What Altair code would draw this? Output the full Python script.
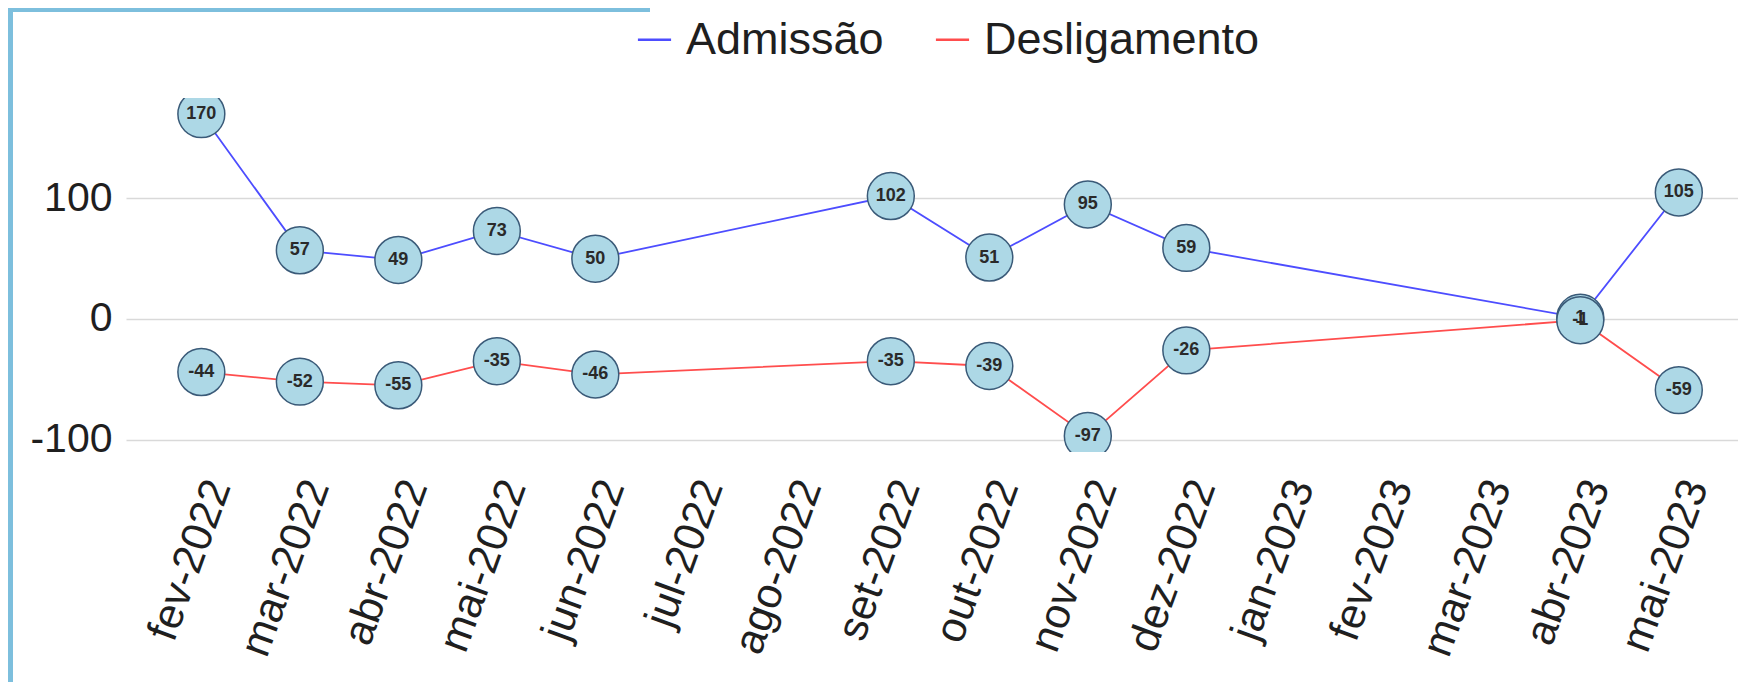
import altair as alt
import pandas as pd

# ---- data ----
months = ["fev-2022", "mar-2022", "abr-2022", "mai-2022", "jun-2022", "jul-2022",
          "ago-2022", "set-2022", "out-2022", "nov-2022", "dez-2022", "jan-2023",
          "fev-2023", "mar-2023", "abr-2023", "mai-2023"]
obs_months = ["fev-2022", "mar-2022", "abr-2022", "mai-2022", "jun-2022", "set-2022",
              "out-2022", "nov-2022", "dez-2022", "abr-2023", "mai-2023"]
admissao = [170, 57, 49, 73, 50, 102, 51, 95, 59, 1, 105]
desligamento = [-44, -52, -55, -35, -46, -35, -39, -97, -26, -1, -59]
series = ["Admissão", "Desligamento"]
series_colors = ["#4d4dff", "#ff4d4d"]

rows = []
for m, v in zip(obs_months, admissao):
    rows.append({"mes": m, "valor": v, "tipo": series[0], "rotulo": str(v)})
for m, v in zip(obs_months, desligamento):
    rows.append({"mes": m, "valor": v, "tipo": series[1], "rotulo": str(v)})
df = pd.DataFrame(rows)

FONT = "Liberation Sans"

x_enc = alt.X("mes:O", sort=months,
              scale=alt.Scale(domain=months, type="point", padding=0.683, align=0.56),
              axis=alt.Axis(title=None, labelAngle=290, labelAlign="right",
                            labelBaseline="middle", labelFontSize=43, labelFont=FONT,
                            labelColor="#1f1f1f", labelPadding=29, labelOffset=17,
                            labelLimit=0,
                            ticks=False, tickSize=0, domain=False, grid=False,
                            labelOverlap=False, labelBound=False))
y_enc = alt.Y("valor:Q",
              scale=alt.Scale(domain=[-110.35, 183.35], nice=False, zero=False),
              axis=alt.Axis(title=None, values=[-100, 0, 100], labelFontSize=41,
                            labelExpr="datum.value + ''",
                            labelFont=FONT, labelColor="#1f1f1f", labelPadding=14,
                            ticks=False, tickSize=0, domain=False, grid=True,
                            gridColor="#d9d9d9", gridWidth=1.6))

base = alt.Chart(df)

lines = base.mark_line(strokeWidth=1.8, clip=True).encode(
    x=x_enc, y=y_enc,
    color=alt.Color("tipo:N",
                    scale=alt.Scale(domain=series, range=series_colors),
                    legend=alt.Legend(title=None, orient="none", legendX=506, legendY=-81,
                                      direction="horizontal", symbolType="stroke",
                                      symbolSize=1100, symbolStrokeWidth=2.5,
                                      labelFontSize=45, labelFont=FONT, labelColor="#1f1f1f",
                                      labelOffset=9, columnPadding=46, padding=0,
                                      labelLimit=0)),
    detail="tipo:N",
)

points = base.mark_circle(size=2200, opacity=1, fill="#add8e6", stroke="#3a5a78",
                          strokeWidth=1.5, clip=True).encode(x=x_enc, y=y_enc)

labels = base.mark_text(fontSize=18, fontWeight="bold", font=FONT, color="#2a2a2a",
                        clip=True).encode(x=x_enc, y=y_enc, text="rotulo:N")

frame_df = pd.DataFrame({"k": [0]})
frame_left = alt.Chart(frame_df).mark_rect(color="#7dbfdd").encode(
    x=alt.value(-118), x2=alt.value(-113), y=alt.value(-90), y2=alt.value(600))
frame_top = alt.Chart(frame_df).mark_rect(color="#7dbfdd").encode(
    x=alt.value(-118), x2=alt.value(524), y=alt.value(-90), y2=alt.value(-86))

chart = alt.layer(frame_left, frame_top, lines, points, labels).properties(
    width=1612, height=354,
    background="white",
    autosize=alt.AutoSizeParams(type="none"),
    padding={"left": 118, "top": 90, "right": 0, "bottom": 230},
).configure_view(stroke=None)

chart.save("out.html", embed_options={"renderer": "svg", "actions": False})
